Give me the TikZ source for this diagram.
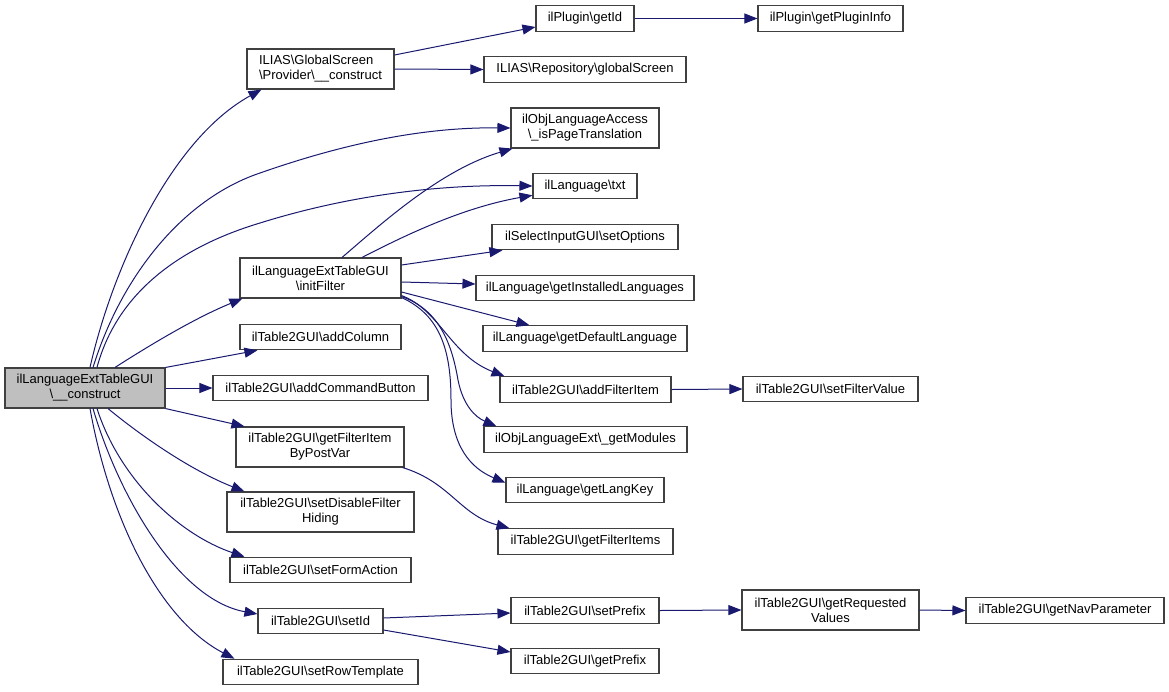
\documentclass[tikz,border=0pt]{standalone}
\usepackage{fontspec}
\setmainfont{Liberation Sans}
\usetikzlibrary{arrows.meta}
\definecolor{edgec}{RGB}{25,25,112}
\definecolor{boxc}{RGB}{64,64,64}
\definecolor{rootc}{RGB}{191,191,191}
\newcommand{\bs}{\textbackslash{}}
\begin{document}
\begin{tikzpicture}[x=1pt,y=-1pt,
  box/.style={draw=boxc, line width=1.1pt, inner sep=0pt, minimum height=25.5pt, align=center, font=\fontsize{13}{15}\selectfont, fill=white},
  tall/.style={minimum height=40pt},
  edge/.style={draw=edgec, line width=1pt, -{Triangle[length=13pt,width=10pt]}}]
\useasboundingbox (0,0) rectangle (1169,691);
\fill[white] (0,0) rectangle (1169,691);
% nodes
\node[box,tall,fill=rootc,minimum width=160pt] (root) at (85,388) {ilLanguageExtTableGUI\\\bs\_\_construct};
\node[box,tall,minimum width=147pt,align=left] (prov) at (320.5,69) {ILIAS\bs GlobalScreen\\\bs Provider\bs\_\_construct};
\node[box,minimum width=98pt] (getid) at (585,18.5) {ilPlugin\bs getId};
\node[box,minimum width=145pt] (plinfo) at (830.5,18.5) {ilPlugin\bs getPluginInfo};
\node[box,minimum width=202pt] (glob) at (585,69.5) {ILIAS\bs Repository\bs globalScreen};
\node[box,tall,minimum width=148pt] (ispt) at (585,128) {ilObjLanguageAccess\\\bs\_isPageTranslation};
\node[box,minimum width=104pt] (txt) at (585,186) {ilLanguage\bs txt};
\node[box,minimum width=186pt] (setopt) at (585,237) {ilSelectInputGUI\bs setOptions};
\node[box,tall,minimum width=161pt] (initf) at (320.5,278) {ilLanguageExtTableGUI\\\bs initFilter};
\node[box,minimum width=218pt] (instl) at (585,288) {ilLanguage\bs getInstalledLanguages};
\node[box,minimum width=161pt] (addcol) at (320.5,337) {ilTable2GUI\bs addColumn};
\node[box,minimum width=204pt] (defl) at (585,338.5) {ilLanguage\bs getDefaultLanguage};
\node[box,minimum width=215pt] (addcmd) at (320.5,388) {ilTable2GUI\bs addCommandButton};
\node[box,minimum width=171pt] (addfi) at (585.5,389.5) {ilTable2GUI\bs addFilterItem};
\node[box,minimum width=175pt] (setfv) at (830.5,389) {ilTable2GUI\bs setFilterValue};
\node[box,tall,minimum width=168pt] (gfibpv) at (320,447) {ilTable2GUI\bs getFilterItem\\ByPostVar};
\node[box,minimum width=203pt] (getmod) at (585.5,439.5) {ilObjLanguageExt\bs\_getModules};
\node[box,tall,minimum width=187pt] (sdfh) at (320.5,512) {ilTable2GUI\bs setDisableFilter\\Hiding};
\node[box,minimum width=158pt] (langkey) at (585,490) {ilLanguage\bs getLangKey};
\node[box,minimum width=175pt] (gfi) at (585.5,541.5) {ilTable2GUI\bs getFilterItems};
\node[box,minimum width=181pt] (sfa) at (320.5,570) {ilTable2GUI\bs setFormAction};
\node[box,minimum width=125pt] (setid) at (320.5,621) {ilTable2GUI\bs setId};
\node[box,minimum width=148pt] (setpre) at (585,610.5) {ilTable2GUI\bs setPrefix};
\node[box,tall,minimum width=177pt] (getreq) at (830.5,610) {ilTable2GUI\bs getRequested\\Values};
\node[box,minimum width=198pt] (nav) at (1065,610.5) {ilTable2GUI\bs getNavParameter};
\node[box,minimum width=148pt] (getpre) at (585,661) {ilTable2GUI\bs getPrefix};
\node[box,minimum width=195pt] (srt) at (320.5,672) {ilTable2GUI\bs setRowTemplate};
% edges from root
\draw[edge] ([xshift=5pt]root.north) .. controls (112,270) and (170,140) .. ([xshift=15pt]prov.south west);
\draw[edge] ([xshift=8pt]root.north) .. controls (120,280) and (180,200) .. (260,173) .. controls (340,145) and (420,127) .. (ispt.west);
\draw[edge] ([xshift=12pt]root.north) .. controls (115,300) and (170,250) .. (260,223) .. controls (340,198) and (430,184) .. (txt.west);
\draw[edge] ([xshift=30pt]root.north) .. controls (150,345) and (195,318) .. ([xshift=3pt]initf.south west);
\draw[edge] (root.north east) -- ([xshift=18pt]addcol.south west);
\draw[edge] (root.east) -- (addcmd.west);
\draw[edge] (root.south east) -- ([xshift=9pt]gfibpv.north west);
\draw[edge] ([xshift=23pt]root.south) .. controls (140,435) and (190,470) .. ([xshift=18pt]sdfh.north west);
\draw[edge] ([xshift=12pt]root.south) .. controls (120,480) and (180,535) .. ([xshift=15pt]sfa.north west);
\draw[edge] ([xshift=8pt]root.south) .. controls (120,500) and (180,600) .. ([yshift=7pt]setid.west);
\draw[edge] ([xshift=5pt]root.south) .. controls (110,520) and (160,620) .. ([xshift=12pt]srt.north west);
% provider
\draw[edge] ([yshift=14pt]prov.east) -- ([yshift=-8.5pt]getid.west);
\draw[edge] (prov.east) -- (glob.west);
\draw[edge] (getid.east) -- (plinfo.west);
% initFilter
\draw[edge] ([xshift=21.5pt]initf.north) .. controls (380,225) and (440,170) .. ([xshift=2pt]ispt.south west);
\draw[edge] ([xshift=41.5pt]initf.north) .. controls (400,238) and (460,208) .. ([yshift=4pt]txt.south west);
\draw[edge] ([yshift=13pt]initf.east) -- ([xshift=11pt]setopt.south west);
\draw[edge] ([yshift=-4pt]initf.east) -- ([yshift=4pt]instl.west);
\draw[edge] ([yshift=-14pt]initf.east) -- ([xshift=47pt]defl.north west);
\draw[edge] ([yshift=3pt]initf.south east) .. controls (440,310) and (450,355) .. ([xshift=5pt]addfi.north west);
\draw[edge] ([yshift=2pt]initf.south east) .. controls (440,310) and (452,345) .. (458,380) .. controls (463,405) and (475,417) .. ([xshift=13pt]getmod.north west);
\draw[edge] ([yshift=1pt]initf.south east) .. controls (440,315) and (451,350) .. (451,400) .. controls (451,445) and (470,468) .. ([yshift=-6pt]langkey.north west);
% others
\draw[edge] ([xshift=-2pt]gfibpv.south east) .. controls (450,482) and (460,515) .. ([xshift=12pt]gfi.north west);
\draw[edge] (addfi.east) -- (setfv.west);
\draw[edge] ([yshift=3pt]setid.east) -- ([yshift=-2.5pt]setpre.west);
\draw[edge] ([yshift=-9pt]setid.east) -- ([yshift=9pt]getpre.west);
\draw[edge] (setpre.east) -- (getreq.west);
\draw[edge] (getreq.east) -- (nav.west);
\end{tikzpicture}
\end{document}
